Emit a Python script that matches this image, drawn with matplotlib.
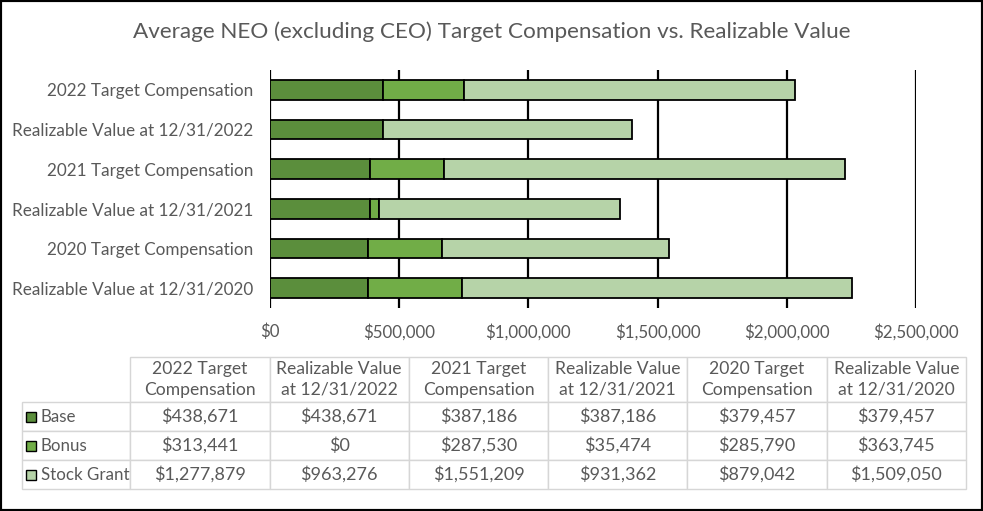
import matplotlib.pyplot as plt
from matplotlib.patches import Rectangle
from matplotlib.ticker import FuncFormatter

plt.rcParams['font.family'] = ['Lato', 'DejaVu Sans']

# categories, top to bottom
categorias = ['2022 Target Compensation', 'Realizable Value at 12/31/2022',
              '2021 Target Compensation', 'Realizable Value at 12/31/2021',
              '2020 Target Compensation', 'Realizable Value at 12/31/2020']
encabezados = ['2022 Target\nCompensation', 'Realizable Value\nat 12/31/2022',
               '2021 Target\nCompensation', 'Realizable Value\nat 12/31/2021',
               '2020 Target\nCompensation', 'Realizable Value\nat 12/31/2020']
series = ['Base', 'Bonus', 'Stock Grant']
base = [438671, 438671, 387186, 387186, 379457, 379457]
bonus = [313441, 0, 287530, 35474, 285790, 363745]
stock = [1277879, 963276, 1551209, 931362, 879042, 1509050]
colores = ['#5B8E3C', '#71AD47', '#B6D3A8']
ticks_x = [0, 500000, 1000000, 1500000, 2000000, 2500000]

W, H = 983, 511
gris = '#595959'

def px(x0, y0, x1, y1):
    # pixel box -> figure rect
    return [x0 / W, 1 - y1 / H, (x1 - x0) / W, (y1 - y0) / H]

fig = plt.figure(figsize=(W / 100, H / 100), dpi=100)

fig.text(492 / W, 1 - 32 / H, 'Average NEO (excluding CEO) Target Compensation vs. Realizable Value',
         ha='center', va='center', fontsize=16.2, color=gris)

# --- bar chart ---
ax = fig.add_axes(px(270, 70, 916, 308))
y = list(range(len(categorias)))
izq = [0] * len(categorias)
for vals, col in zip([base, bonus, stock], colores):
    ax.barh(y, vals, left=izq, height=0.5, color=col, edgecolor='black', linewidth=1.3, zorder=3)
    izq = [a + b for a, b in zip(izq, vals)]

ax.set_xlim(0, 2500000)
ax.set_ylim(len(categorias) - 0.5, -0.5)
ax.set_yticks(y)
ax.set_yticklabels(categorias, fontsize=12.3, color=gris)
ax.set_xticks(ticks_x)
ax.xaxis.set_major_formatter(FuncFormatter(lambda v, p: '${:,.0f}'.format(v)))
ax.tick_params(axis='x', labelsize=12.2, labelcolor=gris, length=0, pad=11)
ax.tick_params(axis='y', length=0, pad=12)
for t in ticks_x:
    ax.axvline(t, color='black', linewidth=1.6, zorder=1)
for s in ax.spines.values():
    s.set_visible(False)

# --- data table ---
tax = fig.add_axes(px(22, 357, 966, 489))
tax.axis('off')
filas = [[''] + encabezados]
for nombre, vals in zip(series, [base, bonus, stock]):
    filas.append([''] + ['${:,.0f}'.format(v) for v in vals])
anchos = [108 / 944] + [139 / 944] * 6
tabla = tax.table(cellText=filas, colWidths=anchos, cellLoc='center', bbox=[0, 0, 1, 1])
tabla.auto_set_font_size(False)
alto_hdr = 45 / 132
alto_fila = 29 / 132
for (r, c), cell in tabla.get_celld().items():
    cell.set_edgecolor('#D6D6D6')
    cell.set_linewidth(1.0)
    cell.set_height(alto_hdr if r == 0 else alto_fila)
    txt = cell.get_text()
    txt.set_color(gris)
    if r == 0:
        txt.set_fontsize(12.6)
        txt.set_linespacing(1.35)
    else:
        txt.set_fontsize(13)
    if r == 0 and c == 0:
        cell.visible_edges = ''

# row labels with legend squares
for i, (nombre, col) in enumerate(zip(series, colores)):
    yc = 402 + 29 * i + 14.5
    fig.patches.append(Rectangle((26 / W, 1 - (yc + 5) / H), 10 / W, 10 / H,
                                 facecolor=col, edgecolor='black', linewidth=1.0,
                                 transform=fig.transFigure, figure=fig))
    fig.text(41 / W, 1 - yc / H, nombre, ha='left', va='center', fontsize=12.2, color=gris)

# outer border
fig.patches.append(Rectangle((0, 0), 1, 1, fill=False, edgecolor='black', linewidth=3,
                             transform=fig.transFigure, figure=fig))

fig.savefig('out.png', dpi=100)
